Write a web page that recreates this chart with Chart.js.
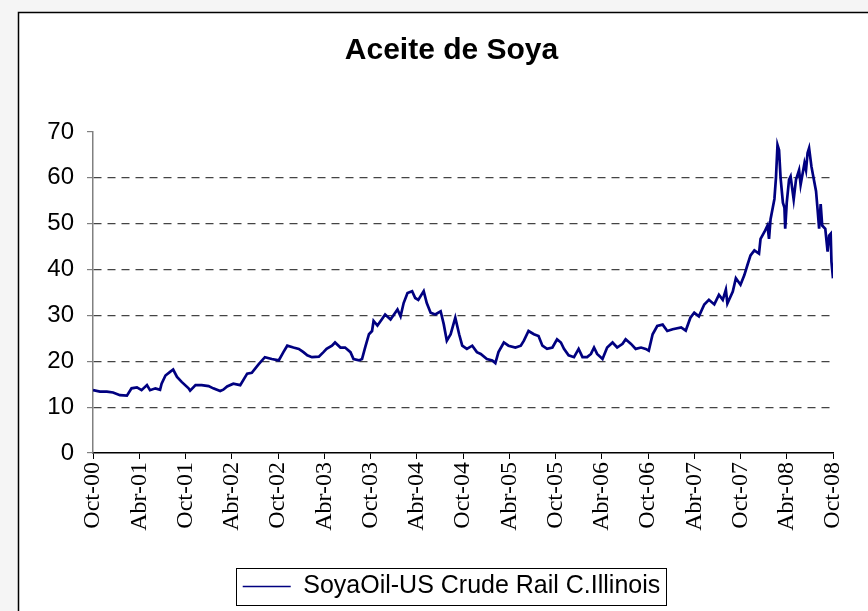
<!DOCTYPE html>
<html>
<head>
<meta charset="utf-8">
<script src="https://cdn.jsdelivr.net/npm/chart.js@4/dist/chart.umd.min.js"></script>
<style>
  html, body { margin: 0; padding: 0; background: #f5f5f5; }
</style>
</head>
<body>
<canvas id="soyaChart" width="868" height="611"></canvas>
<script>
// months counted from Oct-00
var months = [
  0.0, 0.9, 1.8, 2.6, 3.5, 4.4, 5.0, 5.7, 6.3, 7.0, 7.4, 8.1, 8.7, 8.9, 9.4, 10.0,
  10.4, 10.9, 11.5, 12.4, 12.6, 13.3, 14.1, 15.0, 15.6, 16.5, 16.9, 17.4, 18.2, 19.1,
  20.0, 20.6, 21.5, 22.3, 23.2, 24.1, 24.7, 25.2, 26.0, 26.7, 27.3, 27.8, 28.4, 29.3,
  29.9, 30.3, 31.0, 31.4, 32.1, 32.7, 33.4, 33.8, 34.5, 34.9, 35.3, 35.8, 36.2, 36.4,
  36.9, 37.5, 37.9, 38.6, 39.5, 39.9, 40.3, 40.8, 41.4, 41.8, 42.2, 42.9, 43.3, 43.8,
  44.4, 45.1, 45.5, 45.9, 46.4, 47.0, 47.5, 47.9, 48.5, 49.2, 49.8, 50.3, 51.1, 51.8,
  52.2, 52.6, 53.3, 53.9, 54.8, 55.5, 55.9, 56.5, 57.2, 57.8, 58.3, 58.9, 59.6, 60.2,
  60.7, 61.1, 61.7, 62.4, 63.0, 63.5, 64.1, 64.6, 65.0, 65.4, 66.1, 66.7, 67.4, 68.0,
  68.7, 69.1, 69.8, 70.4, 71.1, 71.7, 72.1, 72.6, 73.2, 73.9, 74.5, 75.2, 76.3, 76.9,
  77.5, 78.0, 78.6, 79.3, 79.9, 80.6, 81.2, 81.7, 82.1, 82.3, 83.0, 83.4, 84.0, 84.5,
  84.9, 85.3, 85.8, 86.4, 86.6, 87.1, 87.5, 87.7, 87.9, 88.4, 88.6, 88.8, 89.0, 89.2,
  89.5, 89.7, 89.8, 90.0, 90.3, 90.5, 90.9, 91.2, 91.6, 91.8, 92.3, 92.5, 92.7, 92.9,
  93.2, 93.4, 93.8, 94.0, 94.2, 94.4, 94.6, 95.0, 95.3, 95.5, 95.7, 95.8, 96.0
];
var prices = [
  13.7, 13.4, 13.4, 13.2, 12.6, 12.5, 14.1, 14.3, 13.7, 14.8, 13.7, 14.1, 13.8, 15.1, 16.9, 17.7,
  18.2, 16.6, 15.5, 14.1, 13.6, 14.8, 14.8, 14.6, 14.1, 13.5, 13.8, 14.5, 15.1, 14.8,
  17.3, 17.5, 19.4, 20.9, 20.5, 20.2, 22.0, 23.4, 23.0, 22.7, 22.0, 21.3, 20.9, 21.0,
  22.0, 22.7, 23.4, 24.1, 23.0, 23.0, 22.0, 20.5, 20.2, 20.5, 23.0, 25.9, 26.6, 28.8,
  27.8, 29.2, 30.2, 29.1, 31.3, 29.8, 32.7, 34.9, 35.3, 33.8, 33.4, 35.3, 32.7, 30.6,
  30.2, 30.9, 28.1, 24.5, 25.9, 29.5, 25.9, 23.4, 22.7, 23.4, 22.0, 21.6, 20.5, 20.2,
  19.6, 22.0, 24.1, 23.4, 23.0, 23.4, 24.5, 26.6, 25.9, 25.5, 23.4, 22.7, 23.0, 24.8,
  24.1, 22.7, 21.3, 20.9, 22.7, 20.9, 20.9, 21.6, 23.0, 21.6, 20.5, 23.0, 24.1, 23.0,
  23.8, 24.8, 23.8, 22.7, 23.0, 22.7, 22.3, 25.9, 27.7, 28.0, 26.6, 27.0, 27.4, 26.7,
  29.5, 30.6, 29.8, 32.4, 33.4, 32.4, 34.5, 33.4, 35.6, 32.6, 35.2, 38.1, 36.7, 38.8,
  41.0, 43.1, 44.2, 43.5, 46.7, 48.2, 49.6, 46.7, 51.0, 55.4, 60.0, 67.2, 66.1, 60.0,
  54.6, 53.5, 48.9, 54.6, 59.6, 60.3, 55.3, 59.6, 61.7, 58.5, 63.2, 61.7, 65.4, 66.5,
  62.5, 60.7, 57.1, 53.1, 48.9, 54.3, 49.6, 48.9, 43.9, 47.4, 47.8, 41.7, 38.1
];
var tickMonths = [0, 6, 12, 18, 24, 30, 36, 42, 48, 54, 60, 66, 72, 78, 84, 90, 96];
var tickLabels = ['Oct-00', 'Abr-01', 'Oct-01', 'Abr-02', 'Oct-02', 'Abr-03', 'Oct-03', 'Abr-04',
  'Oct-04', 'Abr-05', 'Oct-05', 'Abr-06', 'Oct-06', 'Abr-07', 'Oct-07', 'Abr-08', 'Oct-08'];
var seriesName = 'SoyaOil-US Crude Rail C.Illinois';

var points = months.map(function (m, i) { return { x: m, y: prices[i] }; });

// frame behind the chart, box round the legend, title/legend centred on the frame
var framePlugin = {
  id: 'frame',
  afterLayout: function (chart) {
    var shift = 26;
    [chart.titleBlock, chart.legend].forEach(function (b) {
      if (!b) return;
      b.left += shift;
      b.right += shift;
    });
  },
  beforeDraw: function (chart) {
    var c = chart.ctx;
    c.save();
    c.fillStyle = '#f5f5f5';
    c.fillRect(0, 0, chart.width, chart.height);
    c.fillStyle = '#ffffff';
    c.fillRect(18, 12, chart.width, chart.height);
    c.strokeStyle = '#000';
    c.lineWidth = 1.5;
    c.strokeRect(18.5, 12.5, chart.width + 10, chart.height + 10);
    c.restore();
  },
  afterDraw: function (chart) {
    var hb = chart.legend.legendHitBoxes[0];
    if (!hb) return;
    var c = chart.ctx;
    c.save();
    c.strokeStyle = '#000';
    c.lineWidth = 1;
    c.strokeRect(Math.round(hb.left - 7) + 0.5, Math.round(hb.top - 6) + 0.5,
      Math.round(hb.width + 12), Math.round(hb.height + 12));
    c.restore();
  }
};

var ctx = document.getElementById('soyaChart').getContext('2d');
var soyaChart = new Chart(ctx, {
  type: 'line',
  data: {
    datasets: [{
      label: seriesName,
      data: points,
      borderColor: '#000080',
      backgroundColor: '#000080',
      borderWidth: 2.7,
      pointRadius: 0,
      tension: 0
    }]
  },
  options: {
    responsive: false,
    animation: false,
    devicePixelRatio: 1,
    layout: { padding: { left: 18, top: 12, right: 35, bottom: 2 } },
    plugins: {
      title: {
        display: true,
        text: 'Aceite de Soya',
        color: '#000',
        font: { family: 'Liberation Sans, Arial', size: 30, weight: 'bold' },
        padding: { top: 21, bottom: 63 }
      },
      legend: {
        position: 'bottom',
        labels: {
          color: '#000',
          font: { family: 'Liberation Sans, Arial', size: 25 },
          usePointStyle: true,
          pointStyle: 'line',
          pointStyleWidth: 48,
          padding: 7,
          generateLabels: function (chart) {
            var items = Chart.defaults.plugins.legend.labels.generateLabels(chart);
            items.forEach(function (it) { it.lineWidth = 1.6; });
            return items;
          }
        }
      },
      tooltip: { enabled: false }
    },
    scales: {
      x: {
        type: 'linear',
        min: 0,
        max: 96,
        afterBuildTicks: function (scale) {
          scale.ticks = tickMonths.map(function (v) { return { value: v }; });
        },
        afterFit: function (scale) { scale.height = 114; },
        ticks: {
          autoSkip: false,
          minRotation: 90,
          maxRotation: 90,
          padding: 3,
          color: '#000',
          font: { family: 'Liberation Serif, Times New Roman', size: 24 },
          callback: function (value) {
            var i = tickMonths.indexOf(value);
            return i >= 0 ? tickLabels[i] : '';
          }
        },
        grid: { drawOnChartArea: false, drawTicks: true, tickLength: 6, color: '#000' },
        border: { color: '#000', width: 1.5 }
      },
      y: {
        min: 0,
        max: 70,
        afterFit: function (scale) { scale.width = 75; },
        ticks: {
          stepSize: 10,
          padding: 13,
          color: '#000',
          font: { family: 'Liberation Sans, Arial', size: 24 }
        },
        grid: {
          color: function (c) {
            var v = c.tick ? c.tick.value : 0;
            return (v === 0 || v === 70) ? 'rgba(0,0,0,0)' : '#444';
          },
          lineWidth: 1.2,
          drawTicks: true,
          tickLength: 6,
          tickColor: '#808080',
          tickBorderDash: []
        },
        border: { color: '#808080', width: 1.5, dash: [8, 6] }
      }
    }
  },
  plugins: [framePlugin]
});
</script>
</body>
</html>
